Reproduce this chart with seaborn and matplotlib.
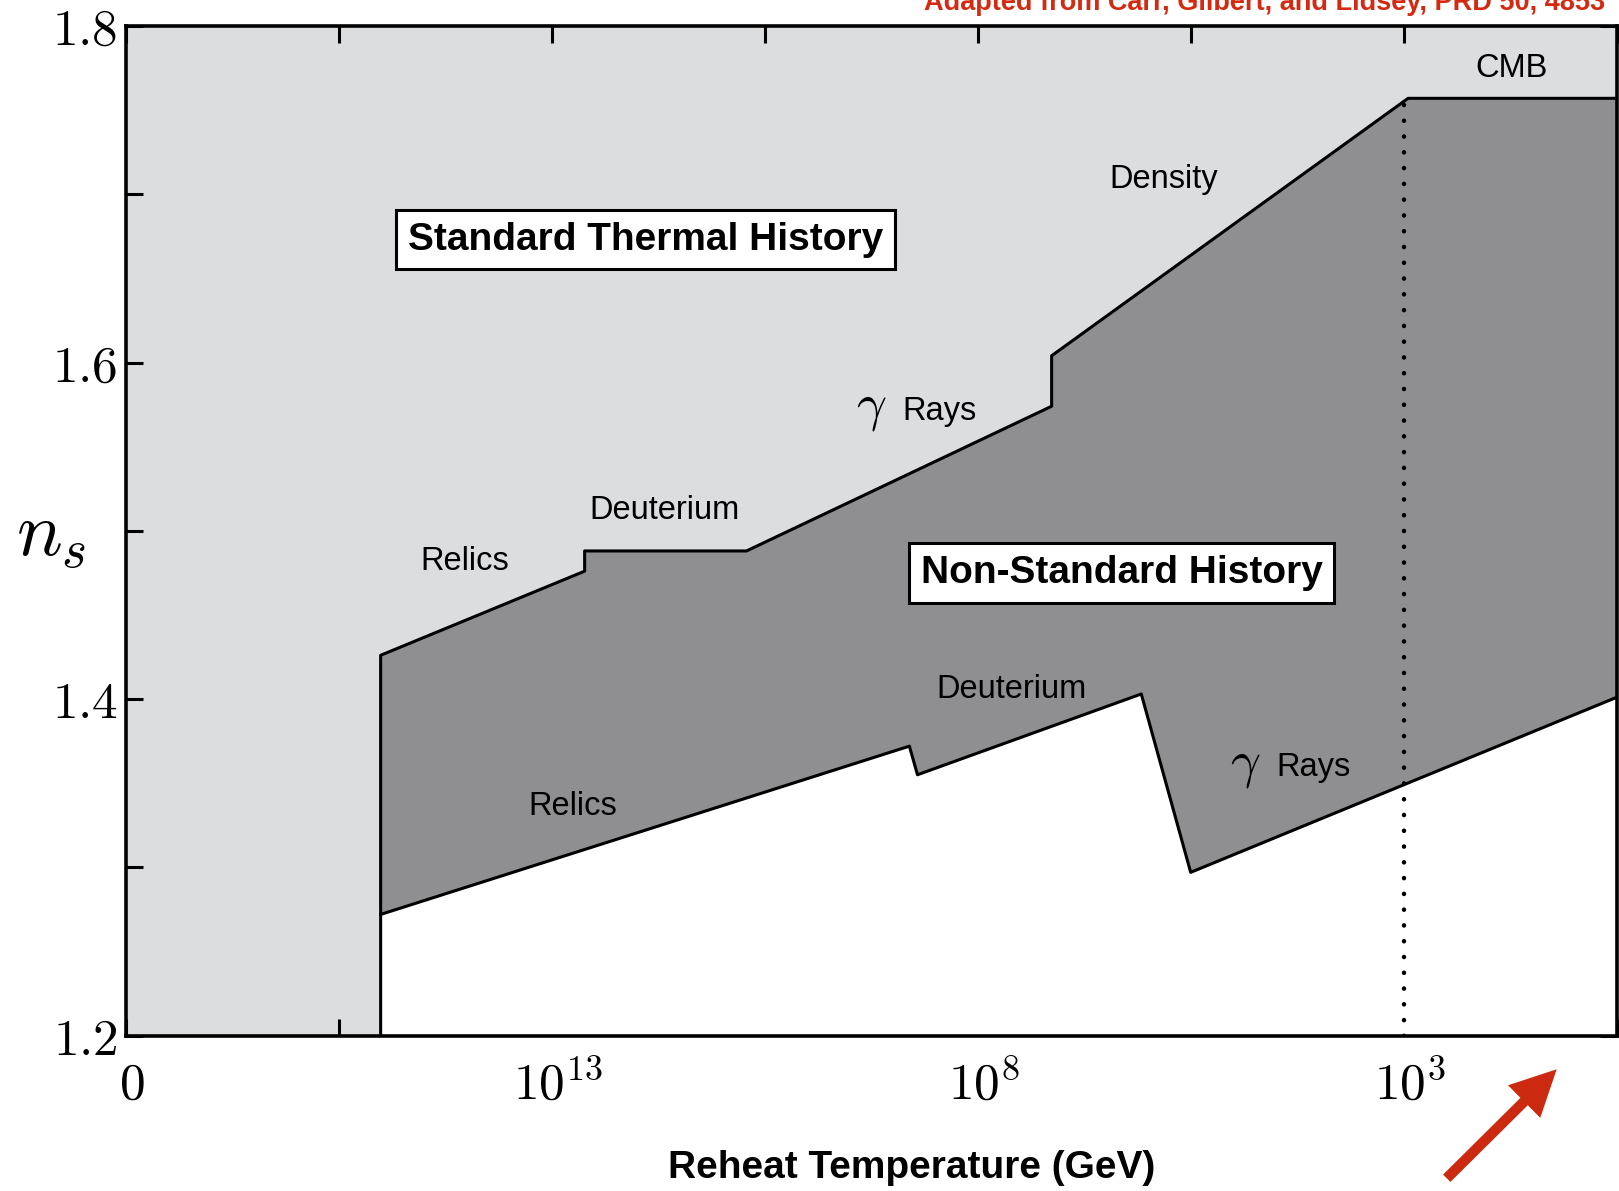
import matplotlib
matplotlib.use("Agg")
import matplotlib.pyplot as plt
import matplotlib.transforms as mtransforms
import seaborn as sns

# Axis positions: 0 .. 7 in equal steps; labelled ticks are reheat temperatures
x_ticks = [0, 1, 2, 3, 4, 5, 6, 7]
x_tick_labels = [r"$0$", "", r"$10^{13}$", "", r"$10^{8}$", "", r"$10^{3}$", ""]
y_ticks = [1.2, 1.3, 1.4, 1.5, 1.6, 1.7, 1.8]
y_tick_labels = [r"$1.2$", "", r"$1.4$", "", r"$1.6$", "", r"$1.8$"]

# Upper limit on n_s (standard thermal history boundary)
upper_x = [1.196, 1.196, 2.154, 2.154, 2.914, 4.347, 4.347, 6.021, 7.0]
upper_y = [1.200, 1.426, 1.476, 1.488, 1.488, 1.574, 1.604, 1.757, 1.757]

# Lower limit (non-standard history boundary)
lower_x = [1.196, 3.679, 3.717, 4.768, 5.000, 7.0]
lower_y = [1.272, 1.372, 1.355, 1.403, 1.297, 1.401]

# Vertical dotted marker at T = 10^3 GeV
marker_x = [6.0, 6.0]
marker_y = [1.2, 1.757]

LIGHT = "#dcdddf"
DARK = "#8f8f91"

sns.set_theme(style="ticks")
plt.rcParams["font.family"] = ["Liberation Sans", "DejaVu Sans"]
plt.rcParams["mathtext.fontset"] = "cm"
plt.rcParams["text.color"] = "black"
plt.rcParams["axes.labelcolor"] = "black"
plt.rcParams["xtick.color"] = "black"
plt.rcParams["ytick.color"] = "black"

fig = plt.figure(figsize=(16.19, 11.91), dpi=100)
ax = fig.add_axes([0.0778, 0.1305, 0.9207, 0.8477])
ax.set_facecolor(LIGHT)

# white region below the lower boundary
wx = lower_x + [lower_x[-1], lower_x[0]]
wy = lower_y + [1.2, 1.2]
ax.fill(wx, wy, color="white", lw=0, zorder=1)

# dark band between the two boundaries
bx = upper_x[1:] + lower_x[::-1]
by = upper_y[1:] + lower_y[::-1]
ax.fill(bx, by, color=DARK, lw=0, zorder=2)

sns.lineplot(x=upper_x, y=upper_y, sort=False, estimator=None, color="black",
             lw=2.2, ax=ax, zorder=4)
sns.lineplot(x=lower_x, y=lower_y, sort=False, estimator=None, color="black",
             lw=2.2, ax=ax, zorder=4)
ax.plot(marker_x, marker_y, color="black", lw=3.2,
        linestyle=(0, (0.05, 3.5)), dash_capstyle="round", zorder=3)

ax.set_xlim(0, 7)
ax.set_ylim(1.2, 1.8)
ax.set_xticks(x_ticks)
ax.set_xticklabels(x_tick_labels)
ax.set_yticks(y_ticks)
ax.set_yticklabels(y_tick_labels)
ax.tick_params(direction="in", length=12, width=2.2, top=True, right=True,
               labelsize=37)
ax.tick_params(axis="x", pad=18)
ax.tick_params(axis="y", pad=6)
shift = mtransforms.ScaledTranslation(6 / 100, 0, fig.dpi_scale_trans)
for lab in ax.get_xticklabels():
    lab.set_transform(lab.get_transform() + shift)
for sp in ax.spines.values():
    sp.set_linewidth(2.6)
    sp.set_color("black")
    sp.set_zorder(6)

ax.set_xlabel("Reheat Temperature (GeV)", fontsize=28, fontweight="bold")
ax.xaxis.label.set_va("center")
ax.xaxis.set_label_coords(0.527, -0.131)
ax.set_ylabel(r"$n_s$", fontsize=55, rotation=0, ha="center", va="center")
ax.yaxis.set_label_coords(-0.05, 0.494)

box = dict(boxstyle="square,pad=0.3", fc="white", ec="black", lw=2.2)
ax.text(2.44, 1.673, "Standard Thermal History", fontsize=28, fontweight="bold",
        ha="center", va="center", bbox=box, zorder=5)
ax.text(4.676, 1.475, "Non-Standard History", fontsize=28, fontweight="bold",
        ha="center", va="center", bbox=box, zorder=5)

labels = [
    ("Relics", 1.592, 1.482),
    ("Deuterium", 2.527, 1.512),
    ("Density", 4.874, 1.709),
    ("CMB", 6.505, 1.775),
    ("Deuterium", 4.158, 1.4055),
    ("Relics", 2.096, 1.336),
    ("Rays", 3.819, 1.571),
    ("Rays", 5.576, 1.3595),
]
for txt, lx, ly in labels:
    ax.text(lx, ly, txt, fontsize=23.5, ha="center", va="center", zorder=5)
for gx, gy in [(3.50, 1.573), (5.257, 1.361)]:
    ax.text(gx, gy, r"$\gamma$", fontsize=38, ha="center", va="center", zorder=5)

fig.text(0.9917, 0.9916, "Adapted from Carr, Gilbert, and Lidsey, PRD 50, 4853",
         color="#d42a12", fontsize=19.5, fontweight="bold", ha="right", va="baseline")

ax.annotate("", xy=(0.9615, 0.1022), xytext=(0.8936, 0.0107),
            xycoords="figure fraction", textcoords="figure fraction",
            arrowprops=dict(arrowstyle="simple,head_length=1.1,head_width=1.1,tail_width=0.25",
                            fc="#cc2a10", ec="none", mutation_scale=30,
                            shrinkA=0, shrinkB=0))

fig.savefig("out.png", dpi=100)
